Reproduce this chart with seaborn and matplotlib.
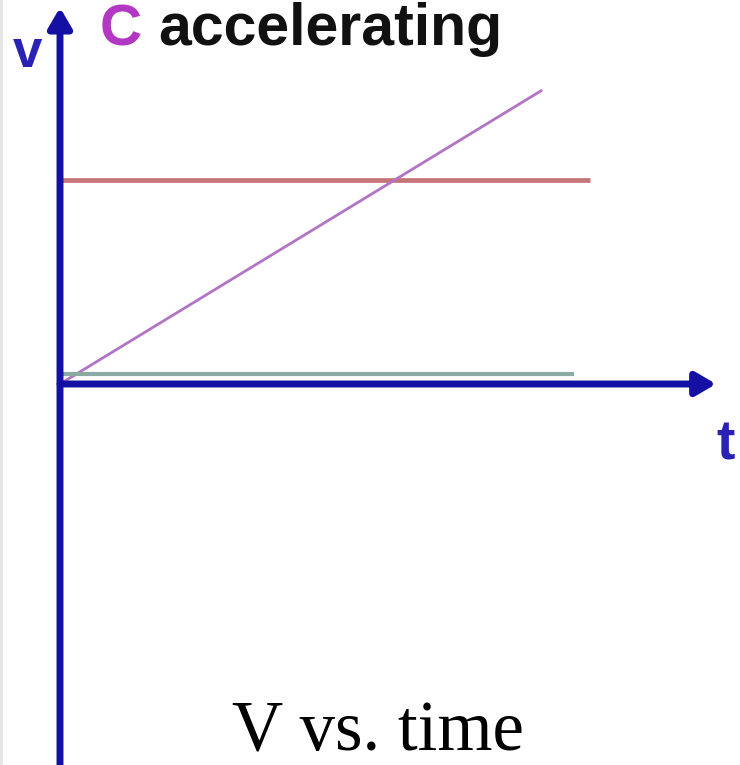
import matplotlib
matplotlib.use("Agg")
import matplotlib.pyplot as plt
import seaborn as sns
import pandas as pd
from matplotlib.patches import Rectangle

# velocity vs time data (arbitrary units)
t_const = [0, 10]
v_const = [6.8, 6.8]
t_rest = [0, 9.7]
v_rest = [0.35, 0.35]
t_accel = [0, 9.1]
v_accel = [0, 9.8]

axis_color = "#1410a4"

sns.set_style("white")
fig = plt.figure(figsize=(7.4, 7.65), dpi=100)
ax = fig.add_axes([0, 0, 1, 1])

lines = [
    (t_const, v_const, "#c47676", 3.4),
    (t_accel, v_accel, "#b274c4", 2.0),
    (t_rest, v_rest, "#8aaaa2", 3.0),
]
for t, v, col, lw in lines:
    df = pd.DataFrame({"t": t, "v": v})
    sns.lineplot(data=df, x="t", y="v", ax=ax, color=col, lw=lw,
                 solid_capstyle="butt")

# axes with arrow heads
ax.set_xlim(-1.132, 12.83)
ax.set_ylim(-12.7, 12.8)
arrow = dict(arrowstyle="-|>,head_length=0.6,head_width=0.35",
             lw=5, color=axis_color, mutation_scale=20, shrinkA=0, shrinkB=0)
ax.annotate("", xy=(12.38, 0), xytext=(0, 0), arrowprops=arrow)
ax.annotate("", xy=(0, 12.55), xytext=(0, -12.7), arrowprops=arrow)
ax.set_axis_off()

fig.text(27 / 740, 1 - 67 / 765, "v", ha="center", va="baseline",
         fontsize=38, fontweight="bold", color="#2a22b4",
         family="Liberation Sans")
fig.text(100 / 740, 1 - 45 / 765, "C", ha="left", va="baseline",
         fontsize=42, fontweight="bold", color="#b238c4",
         family="Liberation Sans")
fig.text(158 / 740, 1 - 45 / 765, "accelerating", ha="left", va="baseline",
         fontsize=42.5, fontweight="bold", color="#111111",
         family="Liberation Sans")
fig.text(716 / 740, 1 - 460 / 765, "t", ha="left", va="baseline",
         fontsize=40, fontweight="bold", color="#2a22b4",
         family="Liberation Sans")
fig.text(378 / 740, 1 - 750 / 765, "V vs. time", ha="center", va="baseline",
         fontsize=51, color="black", family="Liberation Serif")

fig.add_artist(Rectangle((0, 0), 3 / 740, 1, transform=fig.transFigure,
                         color="#e6e6e6", lw=0))

fig.savefig("out.png", dpi=100)
